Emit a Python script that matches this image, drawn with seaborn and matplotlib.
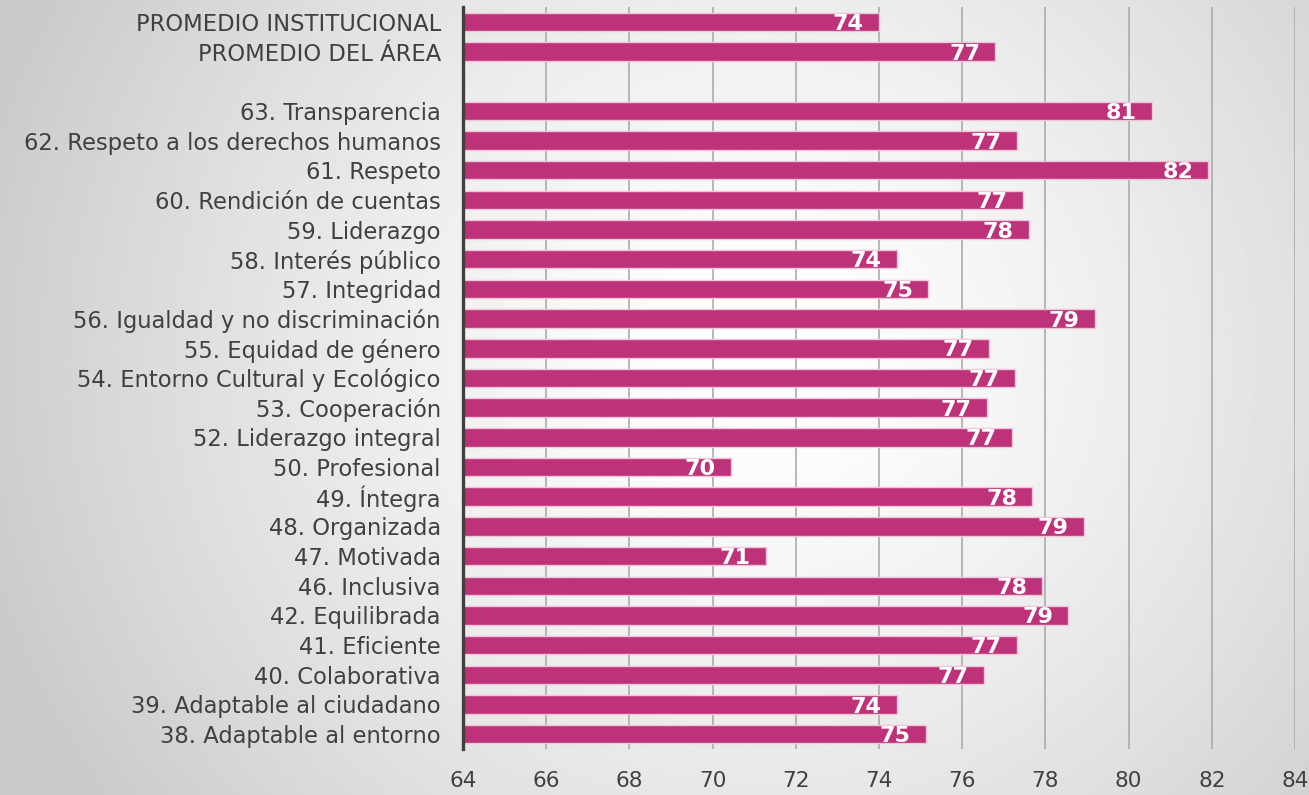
import matplotlib
matplotlib.use('Agg')
import matplotlib.pyplot as plt
import seaborn as sns
import pandas as pd
import numpy as np

categories = ['PROMEDIO INSTITUCIONAL', 'PROMEDIO DEL ÁREA', '',
              '63. Transparencia', '62. Respeto a los derechos humanos', '61. Respeto',
              '60. Rendición de cuentas', '59. Liderazgo', '58. Interés público',
              '57. Integridad', '56. Igualdad y no discriminación', '55. Equidad de género',
              '54. Entorno Cultural y Ecológico', '53. Cooperación', '52. Liderazgo integral',
              '50. Profesional', '49. Íntegra', '48. Organizada', '47. Motivada',
              '46. Inclusiva', '42. Equilibrada', '41. Eficiente', '40. Colaborativa',
              '39. Adaptable al ciudadano', '38. Adaptable al entorno']
values = [74.0, 76.8, None,
          80.57, 77.31, 81.92,
          77.46, 77.6, 74.43,
          75.19, 79.19, 76.65,
          77.27, 76.59, 77.19,
          70.45, 77.69, 78.93, 71.29,
          77.93, 78.55, 77.32, 76.53,
          74.43, 75.13]
value_labels = ['74', '77', '',
                '81', '77', '82', '77', '78', '74', '75', '79', '77', '77', '77', '77',
                '70', '78', '79', '71', '78', '79', '77', '77', '74', '75']

df = pd.DataFrame({'categoria': categories, 'valor': values, 'etiqueta': value_labels})
df_bars = df.dropna(subset=['valor'])

fig = plt.figure(figsize=(13.09, 7.95), dpi=100)

# radial gray background
ax_bg = fig.add_axes([0, 0, 1, 1], zorder=-10)
yy, xx = np.mgrid[0:1:400j, 0:1:660j]
r = np.sqrt(((xx - 0.58) / 0.6) ** 2 + ((yy - 0.45) / 0.95) ** 2)
shade = np.clip(1.0 - 0.2 * r ** 1.4, 0.79, 1.0)
ax_bg.imshow(shade, cmap='gray', vmin=0, vmax=1, aspect='auto', extent=[0, 1, 0, 1], origin='upper')
ax_bg.axis('off')

ax = fig.add_axes([0.3537, 0.0579, 0.9893 - 0.3537, 0.9912 - 0.0579])
ax.set_facecolor('none')

sns.barplot(data=df_bars, y='categoria', x='valor', order=categories, orient='y',
            color='#BD3279', saturation=1, width=0.62, edgecolor='#F2C4DA', linewidth=1,
            ax=ax, zorder=3)

ax.set_xlim(64, 84)
ax.set_ylim(len(categories) - 0.5, -0.5)
ax.set_xticks(np.arange(64, 85, 2))
ax.grid(axis='x', color='#ABABAB', linewidth=1.2, zorder=0)
ax.grid(axis='y', visible=False)
ax.set_axisbelow(True)
for side in ['top', 'right', 'bottom']:
    ax.spines[side].set_visible(False)
ax.spines['left'].set_color('#404040')
ax.spines['left'].set_linewidth(2.4)
ax.spines['left'].set_zorder(5)
ax.tick_params(axis='y', length=0, pad=16, labelsize=16.3, labelcolor='#404040')
ax.tick_params(axis='x', length=0, pad=16, labelsize=15.5, labelcolor='#404040')
ax.set_xlabel('')
ax.set_ylabel('')

for patch, lab in zip(ax.patches, df_bars['etiqueta']):
    x_end = patch.get_x() + patch.get_width()
    y_mid = patch.get_y() + patch.get_height() / 2
    ax.annotate(lab, (x_end, y_mid), xytext=(-11, -1.5), textcoords='offset points',
                ha='right', va='center', color='white', fontsize=16,
                fontweight='bold', zorder=6)

plt.savefig('out.png', dpi=100)
